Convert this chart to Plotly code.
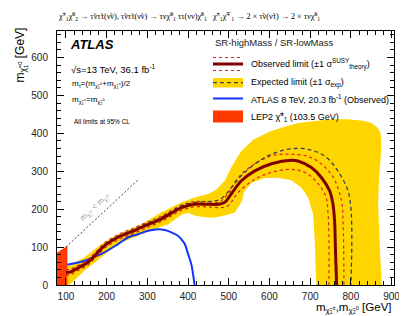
import plotly.graph_objects as go

# ---------------- data ----------------
obs_x = [100,110,130,154,175,195,228,260,285,310,334,360,384,416,449,474,490,506,531,564,605,654,670,703,728,748,756,760,762,765]
obs_y = [33,34,45,60,82,104,126,140,152,163,174,190,204,213,213,213,218,240,275,301,320,329,327,310,283,248,213,169,99,0]

exp_x = [100,110,130,154,175,195,228,260,285,310,334,360,384,416,449,474,490,506,539,588,629,662,695,736,768,793,800,802,802,800]
exp_y = [35,36,48,63,85,107,129,143,156,167,178,195,209,218,220,224,235,257,297,336,354,360,358,340,301,248,204,160,82,0]

th_up_x = [100,110,130,154,175,195,228,260,285,310,334,360,384,416,449,474,498,523,556,605,654,703,752,777,781,783]
th_up_y = [40,41,52,67,89,111,133,147,159,170,181,197,211,220,220,218,240,283,314,341,345,336,292,222,160,0]
th_dn_x = [100,110,130,154,175,195,228,260,285,310,334,360,384,416,449,474,498,523,564,605,654,695,736,744,746]
th_dn_y = [26,27,38,53,75,97,119,133,145,156,167,183,197,206,206,204,209,244,279,297,305,292,240,187,0]

band_outer_x = [100,146,187,228,285,334,384,416,449,470,490,506,530,560,600,629,670,711,750,793,830,850,866,873,875,873,869,867,869,872,876]
band_outer_y = [46,73,108,134,160,191,218,231,240,252,275,310,352,383,404,415,427,433,437,437,433,428,415,400,371,330,280,213,150,80,0]
band_inner_x = [100,108,146,187,228,285,351,384,400,420,449,466,490,515,531,539,556,588,621,654,678,695,707,711,713,715]
band_inner_y = [0,0,38,73,108,134,160,185,190,182,178,178,183,191,218,248,270,282,283,276,257,231,187,126,60,0]

run1_x = [100,146,187,228,253,277,302,326,343,359,375,384,392,400,408,416]
run1_y = [53,64,82,108,126,134,143,147,145,139,130,120,108,82,55,0]

lep_x = [78,78,103.5,103.5]
lep_y = [0,85,103.5,0]

diag_x = [100, 280]
diag_y = [100, 280]

x_range = [78, 906]
y_range = [0, 670]
x_ticks = [100,200,300,400,500,600,700,800,900]
y_ticks = [0,100,200,300,400,500,600]

# ---------------- figure ----------------
W, H = 407, 316
L, R, T, B = 49, 21, 23, 39
pw, ph = W - L - R, H - T - B

def px(x):  # pixel x -> paper
    return (x - L) / pw

def py(y):  # pixel y -> paper
    return (H - B - y) / ph

FONT = "Liberation Sans"
YEL = "#FFD500"
fig = go.Figure()

poly_x = band_outer_x + band_inner_x[::-1]
poly_y = band_outer_y + band_inner_y[::-1]
fig.add_trace(go.Scatter(x=poly_x, y=poly_y, fill="toself", fillcolor=YEL,
                         line=dict(width=0), mode="lines", hoverinfo="skip"))
fig.add_trace(go.Scatter(x=run1_x, y=run1_y, mode="lines",
                         line=dict(color="#1133FF", width=2, shape="spline")))
fig.add_trace(go.Scatter(x=lep_x, y=lep_y, fill="toself", fillcolor="#FF3A00",
                         line=dict(width=0), mode="lines"))
fig.add_trace(go.Scatter(x=th_up_x, y=th_up_y, mode="lines",
                         line=dict(color="#E0201A", width=1.2, dash="dot", shape="spline")))
fig.add_trace(go.Scatter(x=th_dn_x, y=th_dn_y, mode="lines",
                         line=dict(color="#E0201A", width=1.2, dash="dot", shape="spline")))
fig.add_trace(go.Scatter(x=exp_x, y=exp_y, mode="lines",
                         line=dict(color="#34425A", width=1.3, dash="4px,3px", shape="spline")))
fig.add_trace(go.Scatter(x=obs_x, y=obs_y, mode="lines",
                         line=dict(color="#800000", width=3, shape="spline")))
fig.add_trace(go.Scatter(x=diag_x, y=diag_y, mode="lines",
                         line=dict(color="#444444", width=1, dash="2px,2px")))

fig.add_annotation(x=172, y=205, xref="x", yref="y", textangle=-43, showarrow=False,
                   text="m<sub>χ̃₁<sup>±</sup></sub> < m<sub>χ̃₁<sup>0</sup></sub>",
                   font=dict(family=FONT, size=8, color="#999999"))

axis_common = dict(showline=True, linecolor="black", linewidth=1, mirror="allticks",
                   ticks="inside", ticklen=7, tickcolor="black", showgrid=False, zeroline=False,
                   tickfont=dict(family=FONT, size=10, color="#222222"))
fig.update_xaxes(range=x_range, tickvals=x_ticks, ticklabelstandoff=2,
                 minor=dict(ticks="inside", ticklen=4, dtick=20, tick0=0, tickcolor="black"),
                 **axis_common)
fig.update_yaxes(range=y_range, tickvals=y_ticks, ticklabelstandoff=6,
                 minor=dict(ticks="inside", ticklen=4, dtick=20, tick0=0, tickcolor="black"),
                 **axis_common)

fig.update_layout(width=W, height=H, margin=dict(l=L, r=R, t=T, b=B),
                  paper_bgcolor="white", plot_bgcolor="white", showlegend=False)

def txt(x, y, s, size, xanchor="left", family=FONT, color="black", angle=0, yanchor="middle"):
    fig.add_annotation(x=px(x), y=py(y), xref="paper", yref="paper", text=s,
                       showarrow=False, xanchor=xanchor, yanchor=yanchor, textangle=angle,
                       font=dict(family=family, size=size, color=color))

# top process title
txt(48, 8,
    "χ̃<sup>±</sup><sub>1</sub>χ̃<sup>0</sup><sub>2</sub> → τ̃ντ̃τ(ν̃ν), τ̃ντ̃τ(ν̃ν) → τνχ̃<sup>0</sup><sub>1</sub> ττ(νν)χ̃<sup>0</sup><sub>1</sub>"
    "   χ̃<sup>±</sup><sub>1</sub>χ̃<sup>∓</sup><sub>1</sub> → 2 × τ̃ν(ν̃τ) → 2 × τνχ̃<sup>0</sup><sub>1</sub>",
    8.2, family="Liberation Serif")

# axis titles
txt(12, 18, "m<sub>χ̃<sub>1</sub><sup>0</sup></sub> [GeV]", 12, xanchor="center", angle=-90, yanchor="top")
txt(386, 300, "m<sub>χ̃₁<sup>±</sup></sub>,m<sub>χ̃₂<sup>0</sup></sub> [GeV]", 11.5, xanchor="right")

# ATLAS block
txt(60, 36, "<b><i>ATLAS</i></b>", 13)
txt(61, 61, "√s=13 TeV, 36.1 fb<sup>-1</sup>", 9.5)
txt(62, 77, "m<sub>τ̃</sub>=(m<sub>χ̃<sub>1</sub><sup>0</sup></sub>+m<sub>χ̃<sub>1</sub><sup>±</sup></sub>)/2", 8)
txt(62, 93, "m<sub>χ̃<sub>1</sub><sup>±</sup></sub>=m<sub>χ̃<sub>2</sub><sup>0</sup></sub>", 8)
txt(64, 113, "All limits at 95% CL", 6.5)

# legend (drawn by hand)
txt(205, 34, "SR-highMass / SR-lowMass", 9.5, color="#222222")
lx0, lx1 = 205, 235
def hline(y, color, width, dash=None):
    fig.add_shape(type="line", xref="paper", yref="paper", x0=px(lx0), x1=px(lx1), y0=py(y), y1=py(y),
                  line=dict(color=color, width=width, dash=dash))
def box(y0, y1, color):
    fig.add_shape(type="rect", xref="paper", yref="paper", x0=px(lx0), x1=px(lx1), y0=py(y1), y1=py(y0),
                  fillcolor=color, line=dict(width=0))
hline(49.5, "#E0201A", 1, "dot")
hline(56, "#800000", 3)
hline(62.5, "#E0201A", 1, "dot")
box(70, 79.5, YEL)
hline(74.7, "#34425A", 1.3, "4px,3px")
hline(90.5, "#1133FF", 2)
box(102.5, 114.5, "#FF3A00")
txt(241, 56, "Observed limit (±1 σ<sup>SUSY</sup><sub>theory</sub>)", 9)
txt(241, 74.5, "Expected limit (±1 σ<sub>exp</sub>)", 9)
txt(241, 90.5, "ATLAS 8 TeV, 20.3 fb<sup>-1</sup> (Observed)", 9)
txt(241, 108.5, "LEP2 χ̃<sup>±</sup><sub>1</sub> (103.5 GeV)", 9)

fig.write_html("out.html")
